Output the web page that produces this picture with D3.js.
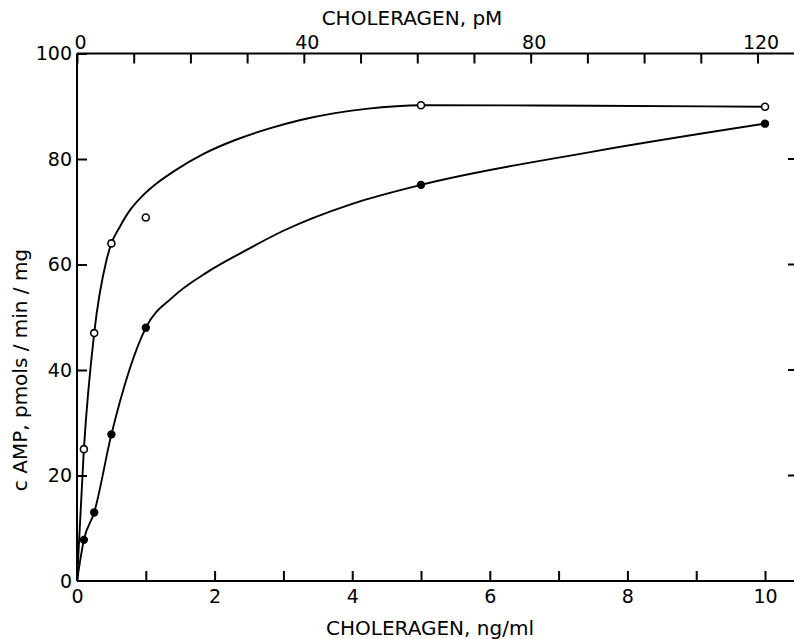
<!DOCTYPE html>
<html>
<head>
<meta charset="utf-8">
<script src="https://cdn.jsdelivr.net/npm/d3@7"></script>
<style>
  html, body { margin: 0; padding: 0; background: #fff; overflow: hidden; }
  svg { display: block; }
  text { font-family: "DejaVu Sans", sans-serif; fill: #000; }
</style>
</head>
<body>
<script>
// Choleragen dose (ng/ml) at which cAMP was measured
const doseNgMl = [0.1, 0.25, 0.5, 1, 5, 10];
// cAMP, pmols/min/mg — open circles and filled circles
const openValues = [25, 47, 64, 68.9, 90.2, 89.9];
const filledValues = [7.8, 13, 27.8, 48, 75.1, 86.7];

// hand-fitted curves drawn through each series
const openCurveX = [0, 0.1, 0.25, 0.43, 0.5, 0.625, 0.77, 0.92, 1.16, 1.4, 1.86, 2.3, 2.8, 3.25, 3.75, 4.2, 5, 7.5, 10];
const openCurveY = [0, 25, 47, 60.9, 64, 67.2, 70.3, 72.6, 75.4, 77.6, 81.1, 83.6, 85.8, 87.4, 88.7, 89.5, 90.2, 90.1, 89.9];
const filledCurveX = [0, 0.1, 0.25, 0.5, 1, 1.4, 1.9, 2.4, 3, 4, 5, 7.5, 10];
const filledCurveY = [0, 7.8, 13, 27.8, 48, 53.9, 58.6, 62.3, 66.4, 71.5, 75.1, 81.4, 86.7];

// axis ticks and labels
const bottomTicks = [0, 1, 2, 3, 4, 5, 6, 7, 8, 9, 10];
const bottomLabels = [0, 2, 4, 6, 8, 10];
const topTicks = [0, 10, 20, 30, 40, 50, 60, 70, 80, 90, 100, 110, 120];
const topLabels = [0, 40, 80, 120];
const leftTicks = [0, 20, 40, 60, 80, 100];

const bottomTitle = "CHOLERAGEN, ng/ml";
const topTitle = "CHOLERAGEN, pM";
const leftTitle = "c AMP, pmols / min / mg";

const W = 794, H = 639;
const frame = { left: 77, right: 794, top: 53.5, bottom: 581 };

const x = d3.scaleLinear().domain([0, 10]).range([77, 765]);
const xTop = d3.scaleLinear().domain([0, 120]).range([77, 757.5]);
const y = d3.scaleLinear().domain([0, 100]).range([frame.bottom, frame.top]);

const svg = d3.select("body").append("svg")
  .attr("width", W).attr("height", H);

function styleAxis(g, fontSize) {
  g.select(".domain").remove();
  g.selectAll(".tick line").attr("stroke", "#000").attr("stroke-width", 2);
  g.selectAll(".tick text").attr("font-size", fontSize)
    .attr("font-family", "DejaVu Sans, sans-serif").attr("fill", "#000");
}

// bottom axis (ng/ml)
svg.append("g")
  .attr("transform", `translate(0,${frame.bottom})`)
  .call(d3.axisBottom(x).tickValues(bottomTicks).tickSize(-10).tickPadding(9)
    .tickFormat(d => bottomLabels.includes(d) ? d : ""))
  .call(g => styleAxis(g, 19));

// top axis (pM)
svg.append("g")
  .attr("transform", `translate(0,${frame.top})`)
  .call(d3.axisTop(xTop).tickValues(topTicks).tickSize(-10).tickPadding(5)
    .tickFormat(d => topLabels.includes(d) ? d : ""))
  .call(g => styleAxis(g, 19))
  .call(g => g.selectAll(".tick text").attr("dx", 3));

// left axis
svg.append("g")
  .attr("transform", `translate(${frame.left},0)`)
  .call(d3.axisLeft(y).tickValues(leftTicks).tickSize(-10).tickPadding(5))
  .call(g => styleAxis(g, 19))
  .call(g => g.selectAll(".tick").filter(d => d === 0).select("line").remove());

// right-hand inward ticks at the edge of the page
svg.append("g").selectAll("line")
  .data(leftTicks.filter(d => d > 0 && d < 100)).join("line")
  .attr("x1", frame.right - 6).attr("x2", frame.right)
  .attr("y1", d => y(d)).attr("y2", d => y(d))
  .attr("stroke", "#000").attr("stroke-width", 2);

// frame lines
const frameG = svg.append("g").attr("stroke", "#000").attr("stroke-width", 2).attr("fill", "none");
frameG.append("line").attr("x1", frame.left).attr("x2", W).attr("y1", frame.bottom).attr("y2", frame.bottom);
frameG.append("line").attr("x1", frame.left).attr("x2", W).attr("y1", frame.top).attr("y2", frame.top);
frameG.append("line").attr("x1", frame.left).attr("x2", frame.left).attr("y1", frame.top).attr("y2", frame.bottom);

// titles
svg.append("text").attr("x", 430).attr("y", 635).attr("text-anchor", "middle")
  .attr("font-size", 20).text(bottomTitle);
svg.append("text").attr("x", 412).attr("y", 25).attr("text-anchor", "middle")
  .attr("font-size", 20).text(topTitle);
svg.append("text").attr("transform", "translate(27,370) rotate(-90)")
  .attr("text-anchor", "middle").attr("font-size", 20).text(leftTitle);

// fitted curves
const line = d3.line()
  .x(d => x(d[0])).y(d => y(d[1]))
  .curve(d3.curveMonotoneX);

const curves = [
  d3.zip(openCurveX, openCurveY),
  d3.zip(filledCurveX, filledCurveY)
];
svg.append("g").selectAll("path").data(curves).join("path")
  .attr("d", line)
  .attr("fill", "none").attr("stroke", "#000").attr("stroke-width", 1.9);

// data points
svg.append("g").selectAll("circle").data(d3.zip(doseNgMl, filledValues)).join("circle")
  .attr("cx", d => x(d[0])).attr("cy", d => y(d[1])).attr("r", 4.2)
  .attr("fill", "#000").attr("stroke", "none");

svg.append("g").selectAll("circle").data(d3.zip(doseNgMl, openValues)).join("circle")
  .attr("cx", d => x(d[0])).attr("cy", d => y(d[1])).attr("r", 3.5)
  .attr("fill", "#fff").attr("stroke", "#000").attr("stroke-width", 1.6);
</script>
</body>
</html>
